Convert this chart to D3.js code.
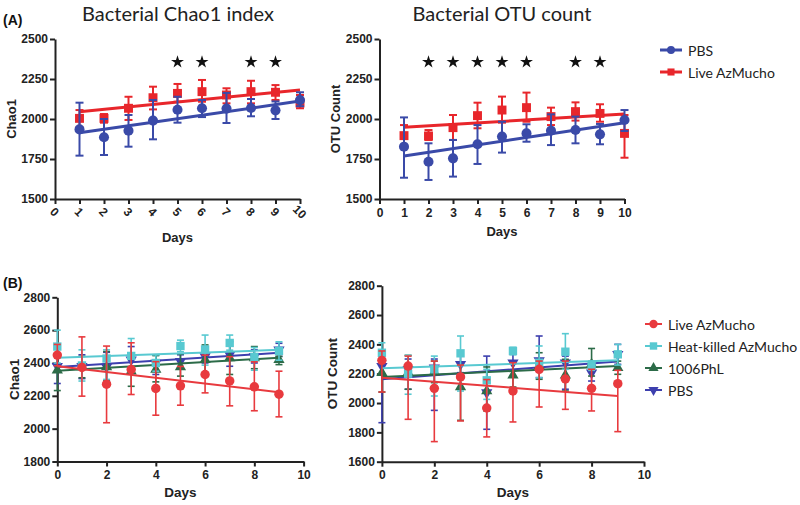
<!DOCTYPE html>
<html><head><meta charset="utf-8">
<script src="https://cdn.jsdelivr.net/npm/d3@7"></script>
<style>body{margin:0;background:#fff}</style>
</head><body>
<svg id="c" width="800" height="505" xmlns="http://www.w3.org/2000/svg"></svg>
<script>
// ---------- DATA ----------
// Panel A (days 1..10)
const daysA = [1,2,3,4,5,6,7,8,9,10];
const chaoA_PBS_mean  = [1935,1886,1927,1990,2058,2067,2065,2069,2054,2118];
const chaoA_PBS_hi    = [2102,2000,2025,2119,2139,2119,2163,2125,2110,2167];
const chaoA_PBS_lo    = [1771,1775,1827,1873,1977,2012,1975,2017,2000,2080];
const chaoA_Live_mean = [2004,2004,2067,2133,2160,2171,2150,2171,2167,2100];
const chaoA_Live_hi   = [2056,2031,2139,2202,2219,2244,2192,2239,2212,2150];
const chaoA_Live_lo   = [1948,1977,1994,2060,2108,2108,2098,2098,2119,2067];
const chaoA_fitPBS  = [1914, 2112];   // fitted line at day 1 and day 10
const chaoA_fitLive = [2046, 2181];
const chaoA_stars = [5,6,8,9];

const otuA_PBS_mean  = [1827,1733,1754,1842,1890,1910,1927,1931,1904,1994];
const otuA_PBS_hi    = [2010,1848,1869,1962,1983,1967,2029,2015,1969,2056];
const otuA_PBS_lo    = [1633,1619,1640,1719,1790,1858,1837,1848,1842,1925];
const otuA_Live_mean = [1896,1894,1946,2021,2056,2071,2015,2046,2035,1910];
const otuA_Live_hi   = [1962,1931,2025,2102,2140,2165,2071,2104,2092,2025];
const otuA_Live_lo   = [1833,1869,1869,1942,1977,1983,1962,1990,1983,1758];
const otuA_fitPBS  = [1769, 1977];
const otuA_fitLive = [1948, 2031];
const otuA_stars = [2,3,4,5,6,8,9];

// Panel B (days 0..9)
const daysB = [0,1,2,3,4,5,6,7,8,9];
const chaoB_Live_mean = [2448,2373,2271,2360,2245,2261,2330,2291,2255,2210];
const chaoB_Live_hi   = [2513,2559,2503,2523,2408,2379,2448,2438,2407,2350];
const chaoB_Live_lo   = [2383,2198,2036,2208,2082,2143,2218,2139,2109,2072];
const chaoB_Heat_mean = [2500,2385,2427,2443,2400,2503,2482,2522,2437,2473];
const chaoB_Heat_hi   = [2600,2480,2480,2549,2450,2539,2570,2570,2494,2529];
const chaoB_Heat_lo   = [2400,2290,2300,2346,2350,2468,2387,2478,2356,2417];
const chaoB_Phl_mean  = [2355,2375,2375,2350,2360,2375,2420,2430,2430,2420];
const chaoB_Phl_hi    = [2507,2440,2470,2450,2445,2455,2510,2530,2500,2440];
const chaoB_Phl_lo    = [2232,2310,2290,2258,2285,2320,2340,2330,2365,2390];
const chaoB_PBS_mean  = [2380,2380,2375,2420,2400,2410,2440,2450,2440,2480];
const chaoB_PBS_hi    = [2450,2450,2465,2500,2450,2450,2480,2530,2480,2520];
const chaoB_PBS_lo    = [2275,2305,2290,2340,2330,2370,2400,2380,2400,2440];
const chaoB_fitLive = [2380, 2222];  // fitted line at day 0 and day 9
const chaoB_fitHeat = [2432, 2480];
const chaoB_fitPhl  = [2352, 2432];
const chaoB_fitPBS  = [2375, 2462];

const otuB_Live_mean = [2291,2252,2100,2178,1966,2082,2230,2164,2100,2132];
const otuB_Live_hi   = [2355,2320,2286,2259,2160,2275,2286,2286,2230,2223];
const otuB_Live_lo   = [2075,1889,1737,1878,1769,1871,1973,1957,1946,1805];
const otuB_Heat_mean = [2343,2200,2230,2339,2155,2355,2275,2350,2257,2332];
const otuB_Heat_hi   = [2411,2325,2320,2457,2230,2380,2389,2473,2286,2400];
const otuB_Heat_lo   = [2286,2060,2048,2082,2025,2330,2173,2230,2223,2259];
const otuB_Phl_mean  = [2207,2207,2210,2110,2082,2190,2252,2190,2264,2240];
const otuB_Phl_hi    = [2355,2325,2286,2259,2246,2268,2343,2298,2372,2286];
const otuB_Phl_lo    = [2075,2094,2139,1882,1946,2109,2162,2082,2184,2196];
const otuB_PBS_mean  = [2250,2230,2241,2264,2071,2275,2290,2275,2207,2332];
const otuB_PBS_hi    = [2320,2300,2300,2355,2320,2332,2457,2320,2280,2400];
const otuB_PBS_lo    = [1866,2094,1950,2207,1821,2218,2173,2094,2150,2264];
const otuB_fitLive = [2173, 2048];
const otuB_fitHeat = [2237, 2292];
const otuB_fitPhl  = [2177, 2252];
const otuB_fitPBS  = [2162, 2284];

const ticksA_y = [1500,1750,2000,2250,2500];
const ticksA_x = [0,1,2,3,4,5,6,7,8,9,10];
const ticksB_chao_y = [1800,2000,2200,2400,2600,2800];
const ticksB_otu_y = [1600,1800,2000,2200,2400,2600,2800];
const ticksB_x = [0,2,4,6,8,10];

// ---------- STYLE ----------
const C = {
  blueA: '#3a4aa8', redA: '#e8262b',
  red: '#e83a3e', cyan: '#58c9d1', green: '#2c6b48', blue: '#3d3fae'
};
const svg = d3.select('#c');
const AX = '#222';
const tickFont = 'Liberation Sans, Arial, sans-serif';

function mkSeries(name, color, symbol, xs, mean, hi, lo, fit, fitX, opts={}) {
  return {name, color, symbol, xs, mean, hi, lo, fit, fitX, ...opts};
}

function symPath(type, size) {
  if (type === 'circle') return d3.symbol(d3.symbolCircle, size)();
  if (type === 'square') return d3.symbol(d3.symbolSquare, size)();
  if (type === 'tri' || type === 'itri') return d3.symbol(d3.symbolTriangle, size)();
  return d3.symbol(d3.symbolCircle, size)();
}

function panel(cfg) {
  const x = d3.scaleLinear().domain(cfg.xDomain).range(cfg.xRange);
  const y = d3.scaleLinear().domain(cfg.yDomain).range(cfg.yRange);
  const g = svg.append('g');

  const ya = g.append('g').attr('transform', `translate(${cfg.xRange[0]},0)`)
    .call(d3.axisLeft(y).tickValues(cfg.yTicks).tickSize(5).tickSizeOuter(0).tickFormat(d3.format('d')));
  const xa = g.append('g').attr('transform', `translate(0,${cfg.yRange[0]})`)
    .call(d3.axisBottom(x).tickValues(cfg.xTicks).tickSize(5).tickSizeOuter(0).tickFormat(d3.format('d')));
  [ya, xa].forEach(a => {
    a.select('.domain').attr('stroke', AX).attr('stroke-width', cfg.axisW);
    a.selectAll('.tick line').attr('stroke', AX).attr('stroke-width', cfg.axisW);
    a.selectAll('.tick text').attr('fill', '#222').attr('font-family', tickFont)
      .attr('font-weight', 'bold').attr('font-size', cfg.tickFs);
  });
  ya.selectAll('.tick text').attr('x', -7);
  if (cfg.rotate) {
    xa.selectAll('.tick text').attr('text-anchor', 'middle').attr('dy', null)
      .attr('y', null).attr('dominant-baseline', 'central')
      .attr('transform', 'translate(-1,13) rotate(45)');
  } else {
    xa.selectAll('.tick text').attr('y', 9);
  }

  g.append('text').attr('x', (cfg.xRange[0] + cfg.xRange[1]) / 2).attr('y', cfg.xTitleY)
    .attr('text-anchor', 'middle').attr('font-family', tickFont).attr('font-weight', 'bold')
    .attr('font-size', cfg.titleFs).attr('fill', '#222').text('Days');
  g.append('text')
    .attr('transform', `translate(${cfg.yTitleX},${(cfg.yRange[0] + cfg.yRange[1]) / 2}) rotate(-90)`)
    .attr('text-anchor', 'middle').attr('font-family', tickFont).attr('font-weight', 'bold')
    .attr('font-size', cfg.titleFs).attr('fill', '#222').attr('dominant-baseline', 'central').text(cfg.yTitle);

  cfg.series.forEach(s => {
    const sg = g.append('g');
    sg.append('line')
      .attr('x1', x(s.fitX[0])).attr('x2', x(s.fitX[1]))
      .attr('y1', y(s.fit[0])).attr('y2', y(s.fit[1]))
      .attr('stroke', s.color).attr('stroke-width', cfg.fitW);
    s.xs.forEach((d, i) => {
      const cx = x(d);
      sg.append('line').attr('x1', cx).attr('x2', cx).attr('y1', y(s.hi[i])).attr('y2', y(s.lo[i]))
        .attr('stroke', s.color).attr('stroke-width', cfg.errW);
      [s.hi[i], s.lo[i]].forEach(v => {
        sg.append('line').attr('x1', cx - cfg.capW / 2).attr('x2', cx + cfg.capW / 2)
          .attr('y1', y(v)).attr('y2', y(v)).attr('stroke', s.color).attr('stroke-width', cfg.errW);
      });
    });
    sg.selectAll('path.m').data(s.xs.map((d, i) => [d, s.mean[i]])).join('path')
      .attr('class', 'm')
      .attr('d', symPath(s.symbol, s.size))
      .attr('transform', d => `translate(${x(d[0])},${y(d[1])})` + (s.symbol === 'itri' ? ' rotate(180)' : ''))
      .attr('fill', s.color);
  });

  if (cfg.stars) {
    g.selectAll('path.star').data(cfg.stars).join('path').attr('class', 'star')
      .attr('d', d3.symbol(d3.symbolStar, 52)())
      .attr('transform', d => `translate(${x(d)},${cfg.starY})`)
      .attr('fill', '#111');
  }
  return {x, y};
}

// ---------- Panel A ----------
const sA = 80;
panel({
  xDomain: [0, 10], xRange: [55, 300], yDomain: [1500, 2500], yRange: [199, 39],
  yTicks: ticksA_y, xTicks: ticksA_x, rotate: true, axisW: 2, tickFs: 12, titleFs: 13,
  xTitleY: 242, yTitleX: 11, yTitle: 'Chao1', fitW: 3, errW: 2, capW: 8,
  stars: chaoA_stars, starY: 62,
  series: [
    mkSeries('Live AzMucho', C.redA, 'square', daysA, chaoA_Live_mean, chaoA_Live_hi, chaoA_Live_lo, chaoA_fitLive, [1, 10], {size: sA}),
    mkSeries('PBS', C.blueA, 'circle', daysA, chaoA_PBS_mean, chaoA_PBS_hi, chaoA_PBS_lo, chaoA_fitPBS, [1, 10], {size: sA})
  ]
});
panel({
  xDomain: [0, 10], xRange: [379.5, 624.5], yDomain: [1500, 2500], yRange: [199, 39],
  yTicks: ticksA_y, xTicks: ticksA_x, rotate: false, axisW: 2, tickFs: 12, titleFs: 13,
  xTitleY: 236, yTitleX: 335, yTitle: 'OTU Count', fitW: 3, errW: 2, capW: 8,
  stars: otuA_stars, starY: 62,
  series: [
    mkSeries('Live AzMucho', C.redA, 'square', daysA, otuA_Live_mean, otuA_Live_hi, otuA_Live_lo, otuA_fitLive, [1, 10], {size: sA}),
    mkSeries('PBS', C.blueA, 'circle', daysA, otuA_PBS_mean, otuA_PBS_hi, otuA_PBS_lo, otuA_fitPBS, [1, 10], {size: sA})
  ]
});

// ---------- Panel B ----------
const sB = 70;
function bSeries(d) {
  return [
    mkSeries('PBS', C.blue, 'itri', daysB, d.PBS[0], d.PBS[1], d.PBS[2], d.PBS[3], [0, 9], {size: 55}),
    mkSeries('1006PhL', C.green, 'tri', daysB, d.Phl[0], d.Phl[1], d.Phl[2], d.Phl[3], [0, 9], {size: 55}),
    mkSeries('Heat-killed AzMucho', C.cyan, 'square', daysB, d.Heat[0], d.Heat[1], d.Heat[2], d.Heat[3], [0, 9], {size: sB}),
    mkSeries('Live AzMucho', C.red, 'circle', daysB, d.Live[0], d.Live[1], d.Live[2], d.Live[3], [0, 9], {size: sB})
  ];
}
panel({
  xDomain: [0, 10], xRange: [57.3, 303.6], yDomain: [1800, 2800], yRange: [461.5, 297.3],
  yTicks: ticksB_chao_y, xTicks: ticksB_x, rotate: false, axisW: 2, tickFs: 12, titleFs: 13.5,
  xTitleY: 497, yTitleX: 14, yTitle: 'Chao1', fitW: 2, errW: 1.6, capW: 7,
  series: bSeries({
    PBS: [chaoB_PBS_mean, chaoB_PBS_hi, chaoB_PBS_lo, chaoB_fitPBS],
    Phl: [chaoB_Phl_mean, chaoB_Phl_hi, chaoB_Phl_lo, chaoB_fitPhl],
    Heat: [chaoB_Heat_mean, chaoB_Heat_hi, chaoB_Heat_lo, chaoB_fitHeat],
    Live: [chaoB_Live_mean, chaoB_Live_hi, chaoB_Live_lo, chaoB_fitLive]
  })
});
panel({
  xDomain: [0, 10], xRange: [381.9, 644], yDomain: [1600, 2800], yRange: [461.7, 285.7],
  yTicks: ticksB_otu_y, xTicks: ticksB_x, rotate: false, axisW: 2, tickFs: 12, titleFs: 13.5,
  xTitleY: 497, yTitleX: 332, yTitle: 'OTU Count', fitW: 2, errW: 1.6, capW: 7,
  series: bSeries({
    PBS: [otuB_PBS_mean, otuB_PBS_hi, otuB_PBS_lo, otuB_fitPBS],
    Phl: [otuB_Phl_mean, otuB_Phl_hi, otuB_Phl_lo, otuB_fitPhl],
    Heat: [otuB_Heat_mean, otuB_Heat_hi, otuB_Heat_lo, otuB_fitHeat],
    Live: [otuB_Live_mean, otuB_Live_hi, otuB_Live_lo, otuB_fitLive]
  })
});

// ---------- Titles, panel letters, legends ----------
const lightFont = 'Lato, "Open Sans", sans-serif';
svg.append('text').attr('x', 178).attr('y', 21).attr('text-anchor', 'middle')
  .attr('font-family', lightFont).attr('font-size', 20).attr('fill', '#222').text('Bacterial Chao1 index');
svg.append('text').attr('x', 502).attr('y', 21).attr('text-anchor', 'middle')
  .attr('font-family', lightFont).attr('font-size', 20).attr('fill', '#222').text('Bacterial OTU count');
svg.append('text').attr('x', 3).attr('y', 25).attr('font-family', tickFont).attr('font-weight', 'bold')
  .attr('font-size', 14).attr('fill', '#111').text('(A)');
svg.append('text').attr('x', 3).attr('y', 288).attr('font-family', tickFont).attr('font-weight', 'bold')
  .attr('font-size', 14).attr('fill', '#111').text('(B)');

function legend(items, x0, y0, dy, lineLen, lw) {
  const lg = svg.append('g');
  items.forEach((it, i) => {
    const yy = y0 + i * dy;
    lg.append('line').attr('x1', x0).attr('x2', x0 + lineLen).attr('y1', yy).attr('y2', yy)
      .attr('stroke', it.color).attr('stroke-width', lw);
    lg.append('path').attr('d', symPath(it.symbol, it.size))
      .attr('transform', `translate(${x0 + lineLen / 2},${yy})` + (it.symbol === 'itri' ? ' rotate(180)' : ''))
      .attr('fill', it.color);
    lg.append('text').attr('x', x0 + lineLen + 6).attr('y', yy).attr('dominant-baseline', 'central')
      .attr('font-family', lightFont).attr('font-size', 14).attr('fill', '#222').text(it.name);
  });
}
legend([
  {name: 'PBS', color: C.blueA, symbol: 'circle', size: 50},
  {name: 'Live AzMucho', color: C.redA, symbol: 'square', size: 50}
], 660, 50, 22, 22, 3);
legend([
  {name: 'Live AzMucho', color: C.red, symbol: 'circle', size: 55},
  {name: 'Heat-killed AzMucho', color: C.cyan, symbol: 'square', size: 55},
  {name: '1006PhL', color: C.green, symbol: 'tri', size: 45},
  {name: 'PBS', color: C.blue, symbol: 'itri', size: 45}
], 645, 324, 22, 17, 2);
</script>
</body></html>
